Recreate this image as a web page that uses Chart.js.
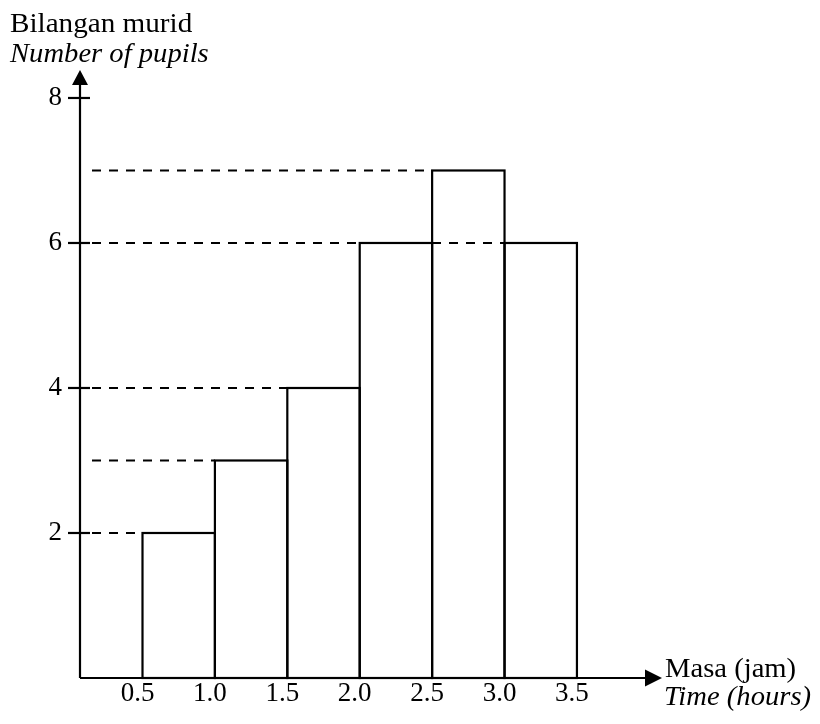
<!DOCTYPE html>
<html><head><meta charset="utf-8">
<script src="https://cdn.jsdelivr.net/npm/chart.js@4.4.1/dist/chart.umd.min.js"></script>
<style>html,body{margin:0;padding:0;background:#fff}canvas{display:block}</style>
</head><body>
<canvas id="c" width="820" height="724"></canvas>
<script>
// ---- data ----
const binEdges = [0.5, 1.0, 1.5, 2.0, 2.5, 3.0, 3.5];
const binTickLabels = ['0.5', '1.0', '1.5', '2.0', '2.5', '3.0', '3.5'];
const pupils = [2, 3, 4, 6, 7, 6];
const yTicks = [2, 4, 6, 8];
const yTitle = ['Bilangan murid', 'Number of pupils'];
const xTitle = ['Masa (jam)', 'Time (hours)'];

const FONT = '"Liberation Serif", "Times New Roman", serif';
const barData = pupils.map((v, i) => ({ x: (binEdges[i] + binEdges[i + 1]) / 2, y: v }));

function scaledText(ctx, txt, x, y, font, sx) {
  ctx.save();
  ctx.font = font;
  ctx.fillStyle = '#000';
  ctx.textAlign = 'left';
  ctx.textBaseline = 'alphabetic';
  ctx.translate(x, y);
  ctx.scale(sx, 1);
  ctx.fillText(txt, 0, 0);
  ctx.restore();
}

const drawPlugin = {
  id: 'histoDecor',
  afterDraw(chart) {
    const ctx = chart.ctx;
    const xs = chart.scales.x, ys = chart.scales.y;
    const area = chart.chartArea;
    const L = area.left, B = area.bottom;
    ctx.save();
    ctx.strokeStyle = '#000';
    ctx.fillStyle = '#000';
    // bar outlines
    ctx.lineWidth = 2.2;
    chart.getDatasetMeta(0).data.forEach(el => {
      const p = el.getProps(['x', 'y', 'base', 'width'], true);
      ctx.strokeRect(p.x - p.width / 2, p.y, p.width, p.base - p.y);
    });
    // dashed guide lines
    ctx.lineWidth = 2.2;
    ctx.setLineDash([9, 8]);
    pupils.forEach((v, i) => {
      const yp = ys.getPixelForValue(v);
      const xe = xs.getPixelForValue(binEdges[i]);
      ctx.beginPath();
      ctx.moveTo(L + 12, yp);
      ctx.lineTo(xe, yp);
      ctx.stroke();
    });
    ctx.setLineDash([]);
    // axes
    ctx.lineWidth = 2.2;
    ctx.beginPath();
    ctx.moveTo(L, B);
    ctx.lineTo(L, area.top + 12);
    ctx.moveTo(L, B);
    ctx.lineTo(area.right, B);
    ctx.stroke();
    // arrowheads
    ctx.beginPath();
    ctx.moveTo(L, area.top);
    ctx.lineTo(L - 8, area.top + 15);
    ctx.lineTo(L + 8, area.top + 15);
    ctx.closePath();
    ctx.fill();
    ctx.beginPath();
    ctx.moveTo(area.right + 17, B);
    ctx.lineTo(area.right, B - 8.5);
    ctx.lineTo(area.right, B + 8.5);
    ctx.closePath();
    ctx.fill();
    // y tick marks crossing the axis
    yTicks.forEach(v => {
      const yp = ys.getPixelForValue(v);
      ctx.beginPath();
      ctx.moveTo(L - 12, yp);
      ctx.lineTo(L + 10, yp);
      ctx.stroke();
    });
    ctx.restore();
    // axis titles
    scaledText(ctx, yTitle[0], 10, 32, '27px ' + FONT, 1.08);
    scaledText(ctx, yTitle[1], 10, 62, 'italic 27px ' + FONT, 1.06);
    scaledText(ctx, xTitle[0], 665, 677, '27px ' + FONT, 1.06);
    scaledText(ctx, xTitle[1], 664, 705, 'italic 27px ' + FONT, 1.06);
  }
};

new Chart(document.getElementById('c'), {
  type: 'bar',
  data: {
    datasets: [{
      data: barData,
      backgroundColor: '#ffffff',
      borderWidth: 0,
      barPercentage: 1,
      categoryPercentage: 1,
      inflateAmount: 0
    }]
  },
  options: {
    responsive: false,
    devicePixelRatio: 1,
    animation: false,
    events: [],
    layout: { padding: { left: 0, top: 70, right: 175, bottom: 0 } },
    plugins: { legend: { display: false }, tooltip: { enabled: false }, title: { display: false } },
    scales: {
      x: {
        type: 'linear',
        offset: false,
        min: 0.0684,
        max: 3.970,
        grid: { display: false, drawTicks: false },
        border: { display: false },
        afterBuildTicks: s => { s.ticks = binEdges.map(v => ({ value: v })); },
        afterFit: s => { s.height = 46; },
        ticks: {
          autoSkip: false,
          maxRotation: 0,
          padding: 0,
          labelOffset: -5,
          color: '#000',
          font: { family: FONT, size: 27 },
          callback: (v, i) => binTickLabels[i]
        }
      },
      y: {
        min: 0,
        max: 8.386,
        grid: { display: false, drawTicks: false },
        border: { display: false },
        afterBuildTicks: s => { s.ticks = yTicks.map(v => ({ value: v })); },
        afterFit: s => { s.width = 80; },
        ticks: {
          padding: 18,
          color: '#000',
          font: { family: FONT, size: 27 },
          callback: v => String(v)
        }
      }
    }
  },
  plugins: [drawPlugin]
});
</script>
</body></html>
